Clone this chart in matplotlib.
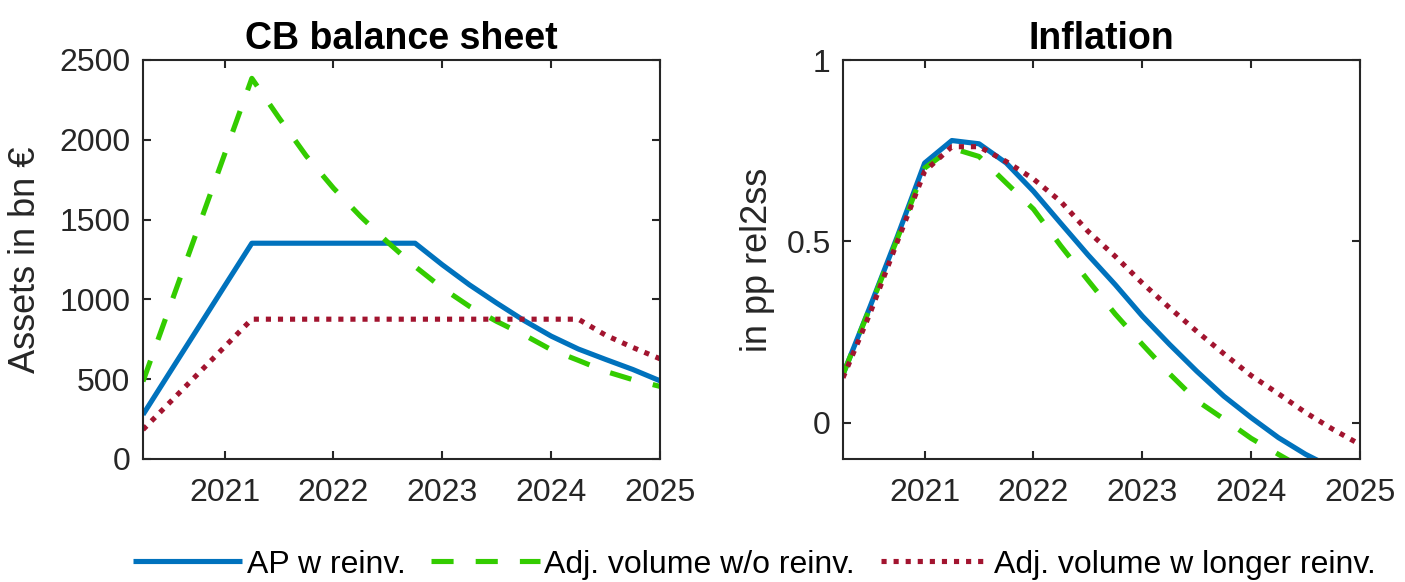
import numpy as np
import matplotlib
matplotlib.use("Agg")
import matplotlib.pyplot as plt

plt.rcParams['font.family'] = ['Liberation Sans', 'DejaVu Sans']

# quarterly dates, 2020Q2 .. 2025Q1
quarters = [2020.25, 2020.5, 2020.75, 2021.0, 2021.25, 2021.5, 2021.75, 2022.0,
            2022.25, 2022.5, 2022.75, 2023.0, 2023.25, 2023.5, 2023.75, 2024.0,
            2024.25, 2024.5, 2024.75, 2025.0]

labels = ["AP w reinv.", "Adj. volume w/o reinv.", "Adj. volume w longer reinv."]

# CB balance sheet, bn EUR
bs_ap = [278, 547, 815, 1084, 1352, 1352, 1352, 1352, 1352, 1352,
         1352, 1217, 1091, 977, 868, 770, 689, 624, 561, 490]
bs_noreinv = [486, 961, 1435, 1910, 2385, 2137, 1899, 1697, 1519, 1357,
              1206, 1071, 956, 862, 778, 685, 618, 549, 497, 455]
bs_longer = [184, 357, 530, 703, 876, 876, 876, 876, 876, 876,
             876, 876, 876, 876, 876, 876, 876, 776, 699, 628]

# inflation, pp rel. to steady state
inf_ap = [0.133, 0.321, 0.514, 0.716, 0.778, 0.769, 0.716, 0.638, 0.550, 0.463,
          0.381, 0.294, 0.216, 0.142, 0.073, 0.014, -0.041, -0.087, -0.125, -0.155]
inf_noreinv = [0.133, 0.318, 0.508, 0.702, 0.757, 0.734, 0.661, 0.589, 0.488, 0.393,
               0.300, 0.216, 0.135, 0.061, 0.010, -0.043, -0.087, -0.130, -0.170, -0.205]
inf_longer = [0.124, 0.303, 0.500, 0.693, 0.761, 0.761, 0.720, 0.672, 0.610, 0.528,
              0.459, 0.385, 0.317, 0.252, 0.190, 0.130, 0.080, 0.028, -0.018, -0.060]

blue = '#0072BD'
green = '#33CC00'
red = '#A2142F'
ink = '#262626'
lw = 3.7

fig = plt.figure(figsize=(14.05, 5.82), dpi=100)
ax1 = fig.add_axes([143 / 1405, 1 - 459 / 582, 517 / 1405, 399 / 582])
ax2 = fig.add_axes([843 / 1405, 1 - 459 / 582, 517 / 1405, 399 / 582])


def draw(ax, a, b, c):
    l1, = ax.plot(quarters, a, color=blue, lw=lw, solid_capstyle='butt')
    l2, = ax.plot(quarters, b, color=green, lw=lw, dashes=(4.3, 4.3))
    l3, = ax.plot(quarters, c, color=red, lw=lw, dashes=(1, 1.35))
    return [l1, l2, l3]


def style(ax):
    ax.set_xlim(2020.25, 2025)
    ax.set_xticks([2021, 2022, 2023, 2024, 2025])
    ax.tick_params(direction='in', length=6, width=1.5, top=True, right=True,
                   labelsize=23, colors=ink)
    ax.tick_params(axis='x', pad=14)
    ax.tick_params(axis='y', pad=9)
    for s in ax.spines.values():
        s.set_linewidth(1.5)
        s.set_color(ink)


lines = draw(ax1, bs_ap, bs_noreinv, bs_longer)
ax1.set_ylim(0, 2500)
ax1.set_yticks([0, 500, 1000, 1500, 2000, 2500])
style(ax1)
ax1.set_title("CB balance sheet", fontsize=27, fontweight='bold', pad=8)
ax1.set_ylabel("Assets in bn €", fontsize=26, color=ink, labelpad=12)

draw(ax2, inf_ap, inf_noreinv, inf_longer)
ax2.set_ylim(-0.1, 1)
ax2.set_yticks([0, 0.5, 1])
ax2.set_yticklabels(["0", "0.5", "1"])
style(ax2)
ax2.set_title("Inflation", fontsize=27, fontweight='bold', pad=8)
ax2.set_ylabel("in pp rel2ss", fontsize=26, color=ink, labelpad=8)

fig.legend(lines, labels, loc='center', bbox_to_anchor=(0.537, 0.03), ncol=3,
           frameon=False, fontsize=23, handlelength=3.4, handletextpad=0.15,
           columnspacing=0.8, borderpad=0)

fig.savefig("out.png", dpi=100)
